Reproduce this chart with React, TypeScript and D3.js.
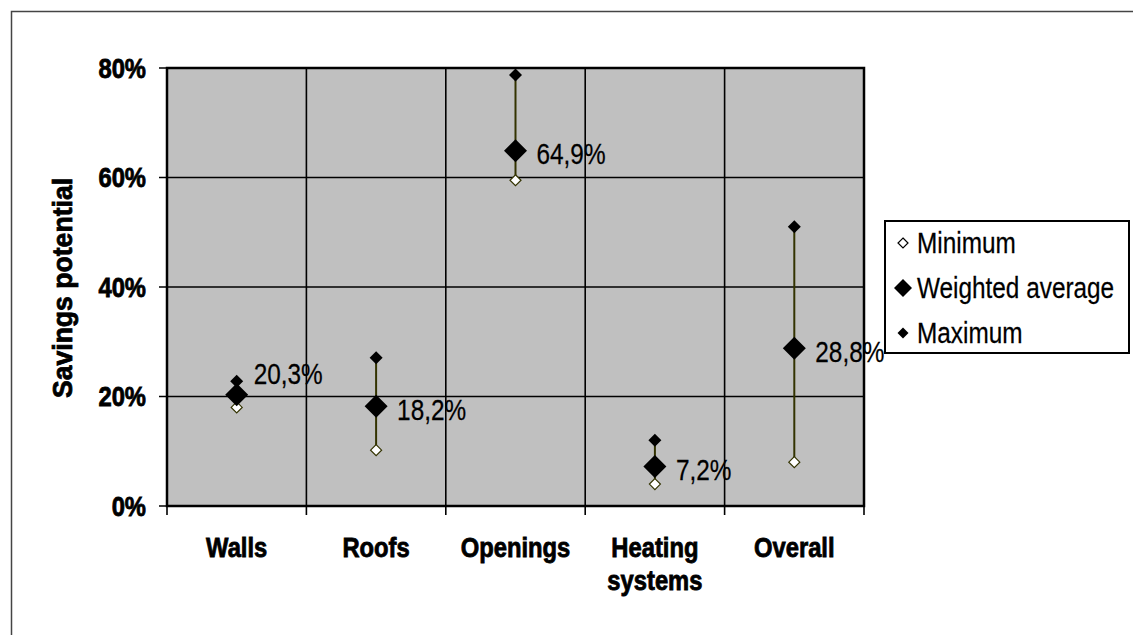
import React, { useEffect, useRef } from "react";
import * as d3 from "d3";

// Savings potential per building element
const categories = ["Walls", "Roofs", "Openings", "Heating\nsystems", "Overall"];
const minimum = [18.0, 10.2, 59.5, 4.0, 8.0];
const weightedAverage = [20.3, 18.2, 64.9, 7.2, 28.8];
const maximum = [22.8, 27.1, 78.7, 12.0, 51.0];
const yTicks = [0, 20, 40, 60, 80];
const legendItems = ["Minimum", "Weighted average", "Maximum"];

const W = 1133;
const H = 635;
const plot = { left: 167, right: 864, top: 68, bottom: 506 };
const SANS = "'Liberation Sans', Arial, sans-serif";
const BAR = "#333300";

// condensed look: Liberation Sans squeezed horizontally
const NARROW_X = 0.84;
const BOLD_X = 0.88;

function diamond(r: number) {
  return `M0,${-r}L${r},0L0,${r}L${-r},0Z`;
}

const fmt = (v: number) => v.toFixed(1).replace(".", ",") + "%";

type Sel = d3.Selection<any, any, any, any>;

function squeezedText(
  parent: Sel,
  x: number,
  y: number,
  sx: number,
  text: string,
  opts: { size: number; bold?: boolean; anchor?: string; rotate?: number; dy?: string }
) {
  const t = parent
    .append("text")
    .attr(
      "transform",
      `translate(${x},${y})${opts.rotate ? ` rotate(${opts.rotate})` : ""} scale(${sx},1)`
    )
    .attr("text-anchor", opts.anchor ?? "start")
    .attr("dy", opts.dy ?? "0")
    .attr("font-family", SANS)
    .attr("font-size", opts.size)
    .attr("fill", "#000")
    .text(text);
  if (opts.bold) {
    t.attr("font-weight", "bold").attr("stroke", "#000").attr("stroke-width", 0.8);
  } else {
    t.attr("stroke", "#000").attr("stroke-width", 0.25);
  }
  return t;
}

export default function App() {
  const ref = useRef<SVGSVGElement>(null);

  useEffect(() => {
    const svg = d3.select(ref.current);
    svg.selectAll("*").remove();

    const x = d3
      .scaleBand<number>()
      .domain(categories.map((_, i) => i))
      .range([plot.left, plot.right])
      .paddingInner(0)
      .paddingOuter(0);
    const y = d3.scaleLinear().domain([0, 80]).range([plot.bottom, plot.top]);
    const cx = (i: number) => (x(i) as number) + x.bandwidth() / 2;
    const idx = categories.map((_, i) => i);

    // outer chart frame
    svg
      .append("rect")
      .attr("x", 11.5)
      .attr("y", 11.5)
      .attr("width", W + 20)
      .attr("height", H + 20)
      .attr("fill", "#fff")
      .attr("stroke", "#444")
      .attr("stroke-width", 1.5);

    // plot area
    svg
      .append("rect")
      .attr("x", plot.left)
      .attr("y", plot.top)
      .attr("width", plot.right - plot.left)
      .attr("height", plot.bottom - plot.top)
      .attr("fill", "#c0c0c0");

    const grid = svg.append("g").attr("stroke", "#000").attr("stroke-width", 1.6);
    yTicks.forEach((t) => {
      grid
        .append("line")
        .attr("x1", plot.left - 8)
        .attr("x2", plot.right)
        .attr("y1", y(t))
        .attr("y2", y(t));
    });
    [...idx.map((i) => x(i) as number), plot.right].forEach((xx) => {
      grid
        .append("line")
        .attr("x1", xx)
        .attr("x2", xx)
        .attr("y1", plot.top)
        .attr("y2", plot.bottom + 9);
    });

    // axis frame (heavier)
    svg
      .append("rect")
      .attr("x", plot.left)
      .attr("y", plot.top)
      .attr("width", plot.right - plot.left)
      .attr("height", plot.bottom - plot.top)
      .attr("fill", "none")
      .attr("stroke", "#000")
      .attr("stroke-width", 2.5);

    // y tick labels
    const yl = svg.append("g");
    yTicks.forEach((t) => {
      squeezedText(yl, 146, y(t), BOLD_X, `${t}%`, {
        size: 27,
        bold: true,
        anchor: "end",
        dy: "0.36em",
      });
    });

    // y axis title
    squeezedText(svg, 72, 288, 0.95, "Savings potential", {
      size: 28,
      bold: true,
      anchor: "middle",
      rotate: -90,
    });

    // category labels
    const catG = svg.append("g");
    categories.forEach((c, i) => {
      c.split("\n").forEach((line, k) => {
        squeezedText(catG, cx(i), 557 + k * 33, BOLD_X, line, {
          size: 27,
          bold: true,
          anchor: "middle",
        });
      });
    });

    // min-max range bars
    svg
      .append("g")
      .selectAll("line")
      .data(idx)
      .join("line")
      .attr("x1", cx)
      .attr("x2", cx)
      .attr("y1", (i) => y(minimum[i]))
      .attr("y2", (i) => y(maximum[i]))
      .attr("stroke", BAR)
      .attr("stroke-width", 2);

    // markers
    svg
      .append("g")
      .selectAll("path")
      .data(idx)
      .join("path")
      .attr("transform", (i) => `translate(${cx(i)},${y(minimum[i])})`)
      .attr("d", diamond(5.5))
      .attr("fill", "#fff")
      .attr("stroke", BAR)
      .attr("stroke-width", 1.2);
    svg
      .append("g")
      .selectAll("path")
      .data(idx)
      .join("path")
      .attr("transform", (i) => `translate(${cx(i)},${y(maximum[i])})`)
      .attr("d", diamond(6.5))
      .attr("fill", "#000");
    svg
      .append("g")
      .selectAll("path")
      .data(idx)
      .join("path")
      .attr("transform", (i) => `translate(${cx(i)},${y(weightedAverage[i])})`)
      .attr("d", diamond(11.5))
      .attr("fill", "#000");

    // value labels for the weighted average
    const vl = svg.append("g");
    idx.forEach((i) => {
      squeezedText(
        vl,
        cx(i) + (i === 0 ? 17 : 21),
        y(weightedAverage[i]) + (i === 0 ? -21 : 3),
        NARROW_X,
        fmt(weightedAverage[i]),
        { size: 29, dy: "0.36em" }
      );
    });

    // legend
    const lg = svg.append("g");
    lg.append("rect")
      .attr("x", 885)
      .attr("y", 221)
      .attr("width", 244)
      .attr("height", 132)
      .attr("fill", "#fff")
      .attr("stroke", "#000")
      .attr("stroke-width", 2);
    const rowY = [243, 288, 333];
    const legendShapes = [
      { r: 5, fill: "#fff", stroke: "#000" },
      { r: 9, fill: "#000", stroke: "none" },
      { r: 5.5, fill: "#000", stroke: "none" },
    ];
    legendItems.forEach((name, k) => {
      lg.append("path")
        .attr("transform", `translate(903,${rowY[k]})`)
        .attr("d", diamond(legendShapes[k].r))
        .attr("fill", legendShapes[k].fill)
        .attr("stroke", legendShapes[k].stroke)
        .attr("stroke-width", 1.2);
      squeezedText(lg, 917, rowY[k], NARROW_X, name, { size: 29, dy: "0.36em" });
    });
  }, []);

  return (
    <svg
      ref={ref}
      width={W}
      height={H}
      style={{ position: "absolute", left: 0, top: 0, background: "#fff" }}
    />
  );
}
